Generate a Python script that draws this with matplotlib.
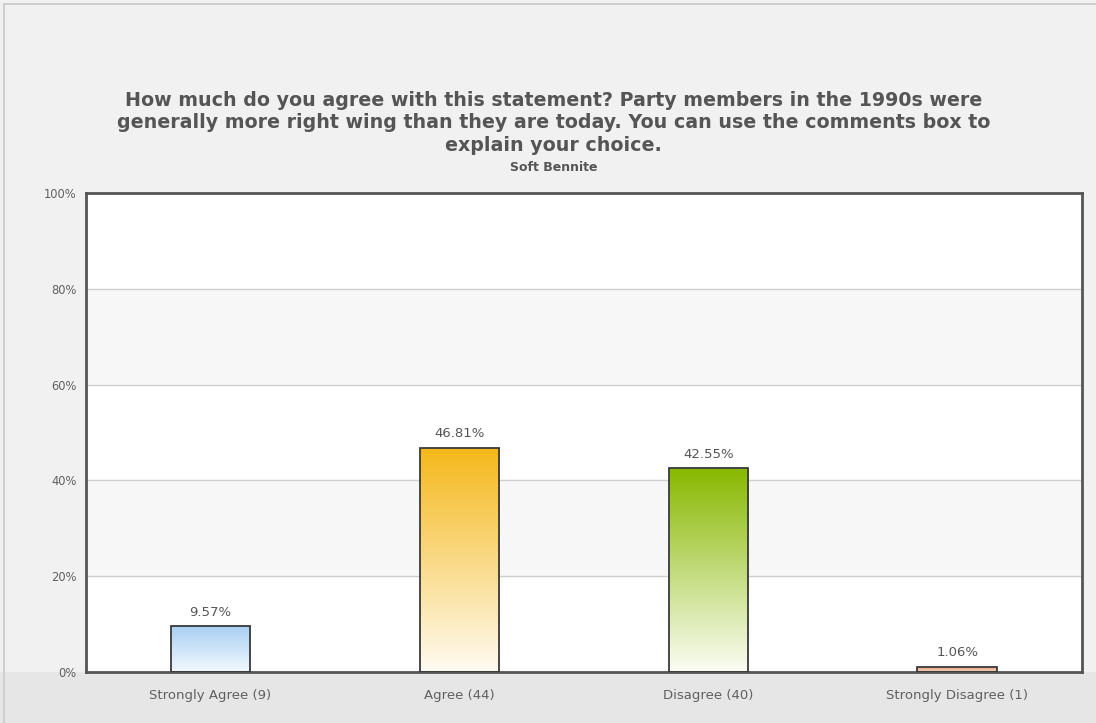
import numpy as np
import matplotlib.pyplot as plt
from matplotlib.colors import LinearSegmentedColormap
from matplotlib.patches import Rectangle

categories = ["Strongly Agree (9)", "Agree (44)", "Disagree (40)", "Strongly Disagree (1)"]
percents = [9.57, 46.81, 42.55, 1.06]
top_colors = ["#a9d0f2", "#f5b81a", "#88b800", "#e3a27c"]
bottom_colors = ["#f2f8fe", "#fffbf2", "#fbfdf4", "#f3cfb8"]
yticks = [0, 20, 40, 60, 80, 100]

title = ("How much do you agree with this statement? Party members in the 1990s were\n"
         "generally more right wing than they are today. You can use the comments box to\n"
         "explain your choice.")
subtitle = "Soft Bennite"

fig = plt.figure(figsize=(10.96, 7.23), dpi=100, facecolor="#f1f1f1")

# light frame around the whole chart and darker strip at the bottom
fig.patches.append(Rectangle((0.0, 0.0), 1.0, 0.0705, transform=fig.transFigure,
                             facecolor="#e6e6e6", edgecolor="none", zorder=0))
fig.patches.append(Rectangle((0.004, -0.01), 1.1, 1.0 - 0.005 + 0.01, transform=fig.transFigure,
                             facecolor="none", edgecolor="#c8c8c8", lw=1.2, zorder=1))

ax = fig.add_axes([0.0785, 0.0705, 0.9085, 0.6625])
ax.set_zorder(5)
ax.set_facecolor("white")
x = np.arange(len(categories))

# alternate bands
for lo in (20, 60):
    ax.axhspan(lo, lo + 20, color="#f7f7f7", zorder=0)
for t in yticks[1:-1]:
    ax.axhline(t, color="#cfcfcf", lw=1, zorder=1)

w = 0.32
for xi, v, tc, bc in zip(x, percents, top_colors, bottom_colors):
    cmap = LinearSegmentedColormap.from_list("g", [bc, tc])
    grad = np.linspace(0, 1, 256).reshape(-1, 1)
    im = ax.imshow(grad, cmap=cmap, aspect="auto", origin="lower",
                   extent=[xi - w / 2, xi + w / 2, 0, v], zorder=2)
    rect = Rectangle((xi - w / 2, 0), w, v, facecolor="none", edgecolor="#3a3a3a",
                     lw=1.3, zorder=3)
    ax.add_patch(rect)
    im.set_clip_path(rect)
    ax.text(xi, v + 1.6, f"{v:.2f}%", ha="center", va="bottom",
            fontsize=9.5, color="#555555", zorder=4)

ax.set_xlim(-0.5, len(categories) - 0.5)
ax.set_ylim(0, 100)
ax.set_xticks(x)
ax.set_xticklabels(categories, fontsize=9.5, color="#606060")
ax.set_yticks(yticks)
ax.set_yticklabels([f"{t}%" for t in yticks], fontsize=8.3, color="#606060")
ax.tick_params(axis="x", length=0, pad=12)
ax.tick_params(axis="y", length=0, pad=7)
for s in ax.spines.values():
    s.set_color("#555555")
    s.set_linewidth(2)

fig.text(0.505, 0.830, title, ha="center", va="center", fontsize=13.7,
         fontweight="bold", color="#555555", linespacing=1.22)
fig.text(0.505, 0.769, subtitle, ha="center", va="center", fontsize=9,
         fontweight="bold", color="#555555")

fig.savefig("out.png", dpi=100, facecolor=fig.get_facecolor())
